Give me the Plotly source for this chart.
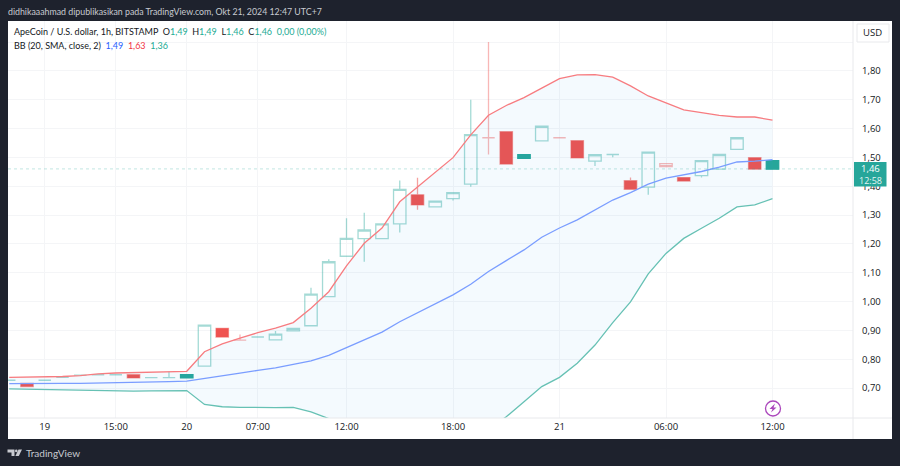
import plotly.graph_objects as go

# candle values, oldest first
candle_open = [0.727, 0.716, 0.727, 0.737, 0.745, 0.746, 0.746, 0.746, 0.736, 0.736, 0.746,
               0.776, 0.907, 0.866, 0.877, 0.867, 0.898, 0.916, 1.017, 1.157, 1.218, 1.218,
               1.269, 1.370, 1.328, 1.357, 1.407, 1.568, 1.589, 1.509, 1.557, 1.568, 1.558,
               1.487, 1.510, 1.419, 1.397, 1.478, 1.430, 1.437, 1.459, 1.528, 1.499, 1.489]
candle_close = [0.727, 0.705, 0.727, 0.737, 0.745, 0.746, 0.746, 0.735, 0.736, 0.736, 0.735,
                0.918, 0.877, 0.866, 0.877, 0.887, 0.907, 1.026, 1.138, 1.219, 1.248, 1.269,
                1.389, 1.335, 1.348, 1.378, 1.579, 1.568, 1.477, 1.497, 1.608, 1.568, 1.498,
                1.509, 1.510, 1.389, 1.518, 1.468, 1.418, 1.489, 1.510, 1.568, 1.459, 1.459]
candle_high = [0.727, 0.716, 0.727, 0.737, 0.745, 0.746, 0.746, 0.746, 0.736, 0.757, 0.746,
               0.918, 0.907, 0.886, 0.877, 0.898, 0.907, 1.048, 1.147, 1.289, 1.308, 1.269,
               1.420, 1.429, 1.348, 1.378, 1.700, 1.900, 1.589, 1.509, 1.608, 1.568, 1.558,
               1.509, 1.510, 1.430, 1.518, 1.478, 1.430, 1.489, 1.510, 1.568, 1.499, 1.489]
candle_low = [0.727, 0.705, 0.727, 0.737, 0.745, 0.746, 0.746, 0.735, 0.736, 0.736, 0.735,
              0.776, 0.877, 0.866, 0.877, 0.867, 0.898, 0.916, 1.017, 1.157, 1.138, 1.218,
              1.239, 1.318, 1.328, 1.350, 1.398, 1.510, 1.477, 1.497, 1.557, 1.568, 1.498,
              1.470, 1.500, 1.389, 1.370, 1.468, 1.418, 1.430, 1.459, 1.528, 1.459, 1.459]

# which candles get which look
red_idx = [1, 7, 12, 23, 28, 32, 35, 38, 42]
pale_red_idx = [13, 27, 31, 37]
teal_idx = [10, 29, 43]

bb_upper = [0.737, 0.738, 0.738, 0.740, 0.743, 0.749, 0.752, 0.754, 0.756, 0.757, 0.758,
            0.826, 0.853, 0.873, 0.892, 0.908, 0.927, 0.977, 1.034, 1.124, 1.202, 1.255,
            1.346, 1.397, 1.449, 1.499, 1.578, 1.646, 1.680, 1.707, 1.740, 1.773, 1.786,
            1.787, 1.778, 1.748, 1.713, 1.688, 1.665, 1.655, 1.646, 1.640, 1.640, 1.629]
bb_basis = [0.715, 0.716, 0.716, 0.716, 0.716, 0.717, 0.717, 0.718, 0.720, 0.722, 0.724,
            0.734, 0.743, 0.752, 0.761, 0.770, 0.782, 0.794, 0.813, 0.840, 0.867, 0.894,
            0.930, 0.961, 0.991, 1.023, 1.060, 1.104, 1.142, 1.179, 1.223, 1.255, 1.283,
            1.318, 1.352, 1.378, 1.407, 1.428, 1.440, 1.451, 1.466, 1.484, 1.487, 1.492]
bb_lower = [0.697, 0.696, 0.695, 0.693, 0.691, 0.690, 0.689, 0.689, 0.690, 0.690, 0.691,
            0.643, 0.635, 0.633, 0.632, 0.632, 0.633, 0.617, 0.594, 0.556, 0.532, 0.533,
            0.514, 0.525, 0.533, 0.547, 0.558, 0.560, 0.600, 0.652, 0.705, 0.737, 0.786,
            0.849, 0.927, 0.999, 1.096, 1.167, 1.219, 1.254, 1.289, 1.328, 1.335, 1.357]

price_ticks = [1.90, 1.80, 1.70, 1.60, 1.50, 1.40, 1.30, 1.20, 1.10, 1.00, 0.90, 0.80, 0.70]
price_labels = ["", "1,80", "1,70", "1,60", "1,50", "1,40", "1,30", "1,20", "1,10", "1,00", "0,90", "0,80", "0,70"]
time_ticks = [2, 6, 10, 14, 19, 25, 31, 37, 43]
time_labels = ["19", "15:00", "20", "07:00", "12:00", "18:00", "21", "06:00", "12:00"]
last_price = 1.46

FONT = "Open Sans"
TEAL = "#26a69a"
RED = "#ef5350"
n = len(candle_open)
hollow_idx = [i for i in range(n) if i not in red_idx + pale_red_idx + teal_idx]


def px_x(v):
    return (v - 8) / 845


def px_y(v):
    return (418 - v) / 397


def paper_path(points):
    # polygon given in screen pixels
    parts = ["%s%.5f,%.5f" % ("M" if k == 0 else "L", px_x(a), px_y(b)) for k, (a, b) in enumerate(points)]
    return " ".join(parts) + " Z"


def add_candles(fig, idx, line_color, fill_color):
    side = dict(line=dict(color=line_color, width=1.3), fillcolor=fill_color)
    fig.add_trace(go.Candlestick(
        x=idx,
        open=[candle_open[i] for i in idx],
        high=[candle_high[i] for i in idx],
        low=[candle_low[i] for i in idx],
        close=[candle_close[i] for i in idx],
        increasing=side, decreasing=side, whiskerwidth=0, hoverinfo="skip", showlegend=False))


fig = go.Figure()
xs = list(range(n))

# band fill + lines
fig.add_trace(go.Scatter(x=xs, y=bb_lower, mode="lines", line=dict(color="rgba(0,0,0,0)", width=0), showlegend=False))
fig.add_trace(go.Scatter(x=xs, y=bb_upper, mode="lines", line=dict(color="rgba(0,0,0,0)", width=0),
                         fill="tonexty", fillcolor="rgba(33,150,243,0.05)", showlegend=False))

add_candles(fig, hollow_idx, "rgba(38,166,154,0.42)", "rgba(255,255,255,0)")
add_candles(fig, pale_red_idx, "rgba(239,83,80,0.42)", "rgba(255,255,255,0)")
add_candles(fig, red_idx, "rgba(239,83,80,0.55)", RED)
add_candles(fig, teal_idx, TEAL, TEAL)

fig.add_trace(go.Scatter(x=xs, y=bb_upper, mode="lines", line=dict(color="#f77c80", width=1.3), showlegend=False))
fig.add_trace(go.Scatter(x=xs, y=bb_basis, mode="lines", line=dict(color="#7a9dff", width=1.3), showlegend=False))
fig.add_trace(go.Scatter(x=xs, y=bb_lower, mode="lines", line=dict(color="#66c1b4", width=1.3), showlegend=False))

# white chart card on the dark page
fig.add_shape(type="rect", xref="paper", yref="paper", layer="below", line_width=0, fillcolor="#ffffff",
              x0=px_x(8), x1=px_x(892), y0=px_y(439), y1=px_y(21))
# axis borders
fig.add_shape(type="line", xref="paper", yref="paper", line=dict(color="#e8e9ec", width=1),
              x0=1, x1=1, y0=px_y(439), y1=px_y(21))
fig.add_shape(type="line", xref="paper", yref="paper", line=dict(color="#e8e9ec", width=1),
              x0=0, x1=px_x(892), y0=0, y1=0)
# last price line
fig.add_shape(type="line", xref="paper", yref="y", line=dict(color="rgba(38,166,154,0.4)", width=0.7, dash="dot"),
              x0=0, x1=1, y0=last_price, y1=last_price)
# price label box
fig.add_shape(type="rect", xref="paper", yref="paper", line_width=0, fillcolor=TEAL,
              x0=px_x(854), x1=px_x(886.5), y0=px_y(186.5), y1=px_y(162))
# USD button
fig.add_shape(type="rect", xref="paper", yref="paper", line=dict(color="#e8e9ec", width=1), fillcolor="#ffffff",
              x0=px_x(857), x1=px_x(889), y0=px_y(42), y1=px_y(24))
# flash badge
fig.add_shape(type="circle", xref="paper", yref="paper", line=dict(color="#ab47bc", width=1.3), fillcolor="#ffffff",
              x0=px_x(765.5), x1=px_x(780.5), y0=px_y(416), y1=px_y(401))
fig.add_shape(type="path", xref="paper", yref="paper", line_width=0, fillcolor="#ab47bc",
              path=paper_path([(775, 403.5), (769.5, 409), (772.5, 409), (771, 412.5), (776.5, 407.5), (773.5, 407.5)]))
# TradingView logo
logo = "#c8cad0"
fig.add_shape(type="path", xref="paper", yref="paper", line_width=0, fillcolor=logo,
              path=paper_path([(7.5, 449.5), (14.5, 449.5), (14.5, 456), (11.5, 456), (11.5, 452.5), (7.5, 452.5)]))
fig.add_shape(type="circle", xref="paper", yref="paper", line_width=0, fillcolor=logo,
              x0=px_x(15), x1=px_x(17.6), y0=px_y(452.3), y1=px_y(449.6))
fig.add_shape(type="path", xref="paper", yref="paper", line_width=0, fillcolor=logo,
              path=paper_path([(18.5, 449.5), (22, 449.5), (18.8, 456), (15.4, 456)]))


def label(text, x, y, size=9.5, color="#131722", anchor="left", family=FONT):
    fig.add_annotation(text=text, xref="paper", yref="paper", x=px_x(x), y=px_y(y), xanchor=anchor, yanchor="middle",
                       showarrow=False, align="left", borderpad=0, font=dict(family=family, size=size, color=color))


label("didhikaaahmad dipublikasikan pada TradingView.com, Okt 21, 2024 12:47 UTC+7", 7, 11, size=8.8,
      color="#c8cad0", family="Lato")
val = "<span style='color:#22ab94'>%s</span>"
label("ApeCoin / U.S. dollar, 1h, BITSTAMP  O" + val % "1,49" + "  H" + val % "1,49" + "  L" + val % "1,46"
      + "  C" + val % "1,46" + "  " + val % "0,00 (0,00%)", 13, 32, size=9, family="Lato")
label("BB (20, SMA, close, 2)  <span style='color:#2962ff'>1,49</span>  <span style='color:#f23645'>1,63</span>  "
      + val % "1,36", 13, 45, size=9, family="Lato")
label("USD", 873, 33, anchor="center")
label("1,46", 870, 168.5, size=9.5, color="#ffffff", anchor="center")
label("12:58", 870, 180, size=9, color="#e4f4f2", anchor="center")
label("TradingView", 25, 453, size=10, color="#c8cad0", family="Lato")

grid = "#f4f5f7"
tick_font = dict(family=FONT, size=9.5, color="#131722")
fig.update_layout(
    width=900, height=466, autosize=False,
    margin=dict(l=8, r=47, t=21, b=48, pad=0),
    paper_bgcolor="#1e222d", plot_bgcolor="#ffffff",
    showlegend=False, boxgap=0,
    xaxis=dict(range=[-0.07, 47.535], tickmode="array", tickvals=time_ticks, ticktext=time_labels,
               showgrid=True, gridcolor=grid, gridwidth=1, zeroline=False, showline=False, ticks="",
               rangeslider_visible=False, tickfont=tick_font, ticklabelstandoff=1),
    yaxis=dict(range=[0.596, 1.973], side="right", tickmode="array", tickvals=price_ticks, ticktext=price_labels,
               showgrid=True, gridcolor=grid, gridwidth=1, zeroline=False, showline=False, ticks="",
               tickfont=tick_font, ticklabelstandoff=8),
)

fig.write_html("out.html", config=dict(displayModeBar=False), post_script="document.body.style.margin='0';")
